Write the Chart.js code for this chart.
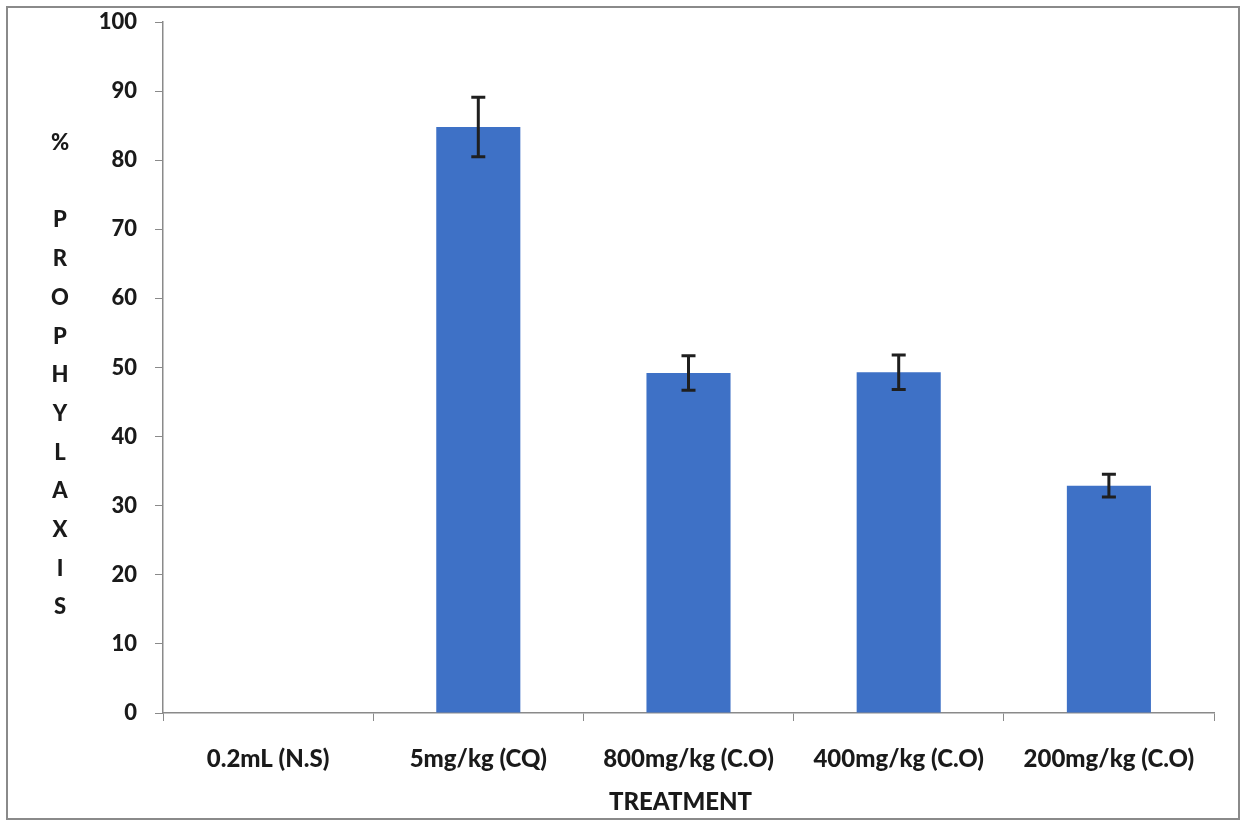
<!DOCTYPE html>
<html>

<head>
    <script src="https://cdn.jsdelivr.net/npm/chart.js@4.4.0/dist/chart.umd.min.js"></script>
    <style>
        body {
            margin: 0;
            background: #ffffff;
        }

        .chart {
            width: 1244px;
            height: 820px;
        }
    </style>
</head>

<body>
    <div class="chart">
        <canvas id="prophylaxis"></canvas>
    </div>

    <script>
        const treatments = ['0.2mL (N.S)', '5mg/kg (CQ)', '800mg/kg (C.O)', '400mg/kg (C.O)', '200mg/kg (C.O)']
        const prophylaxis = [0, 84.8, 49.2, 49.3, 32.9]
        const sem = [0, 4.3, 2.5, 2.5, 1.65]
        const yTitle = ['%', '', 'P', 'R', 'O', 'P', 'H', 'Y', 'L', 'A', 'X', 'I', 'S']
        const xTitle = 'TREATMENT'

        const fontFamily = 'Lato, sans-serif'

        // error bars, outer frame and the two axis titles
        const extras = {
            id: 'extras',
            afterDatasetsDraw(chart) {
                const ctx = chart.ctx
                const x = chart.scales.x
                const y = chart.scales.y
                ctx.save()
                ctx.strokeStyle = '#1f1f1f'
                ctx.lineWidth = 3
                prophylaxis.forEach((v, i) => {
                    if (!sem[i]) return
                    const cx = x.getPixelForValue(i)
                    const top = y.getPixelForValue(v + sem[i])
                    const bot = y.getPixelForValue(v - sem[i])
                    ctx.beginPath()
                    ctx.moveTo(cx, top)
                    ctx.lineTo(cx, bot)
                    ctx.moveTo(cx - 7, top)
                    ctx.lineTo(cx + 7, top)
                    ctx.moveTo(cx - 7, bot)
                    ctx.lineTo(cx + 7, bot)
                    ctx.stroke()
                })
                ctx.restore()
            },
            afterDraw(chart) {
                const ctx = chart.ctx
                const area = chart.chartArea
                ctx.save()
                ctx.strokeStyle = '#8a8a8a'
                ctx.lineWidth = 2
                ctx.strokeRect(7, 7, 1232, 812)

                ctx.fillStyle = '#1a1a1a'
                ctx.textAlign = 'center'
                ctx.textBaseline = 'middle'
                ctx.font = '900 22px Lato, sans-serif'
                yTitle.forEach((ch, i) => {
                    ctx.fillText(ch, 60, 143 + i * 38.7)
                })
                ctx.font = '900 24px Lato, sans-serif'
                ctx.fillText(xTitle, (area.left + area.right) / 2 - 8, 802)
                ctx.restore()
            }
        }

        new Chart(document.getElementById('prophylaxis').getContext('2d'), {
            type: 'bar',
            data: {
                labels: treatments,
                datasets: [{
                    label: '% prophylaxis',
                    backgroundColor: '#3e71c6',
                    borderWidth: 0,
                    categoryPercentage: 1,
                    barPercentage: 0.4,
                    data: prophylaxis
                }]
            },
            options: {
                maintainAspectRatio: false,
                responsive: true,
                animation: false,
                layout: {
                    padding: { left: 0, top: 22, right: 30, bottom: 0 }
                },
                plugins: {
                    legend: { display: false },
                    title: { display: false },
                    tooltip: { enabled: false }
                },
                scales: {
                    x: {
                        afterFit(scale) { scale.height = 107 },
                        border: { color: '#8a8a8a', width: 1.5 },
                        grid: {
                            drawOnChartArea: false,
                            color: '#8a8a8a',
                            tickLength: 8,
                            offset: true
                        },
                        ticks: {
                            color: '#1a1a1a',
                            padding: 24,
                            maxRotation: 0,
                            font: { family: fontFamily, size: 24, weight: '900' }
                        }
                    },
                    y: {
                        min: 0,
                        max: 100,
                        afterFit(scale) {
                            scale.width = 163
                            scale.paddingTop = 0
                            scale.paddingBottom = 0
                        },
                        border: { color: '#8a8a8a', width: 1.5 },
                        grid: {
                            drawOnChartArea: false,
                            color: '#8a8a8a',
                            tickLength: 8
                        },
                        ticks: {
                            stepSize: 10,
                            color: '#1a1a1a',
                            padding: 18,
                            font: { family: fontFamily, size: 22, weight: '900' }
                        }
                    }
                }
            },
            plugins: [extras]
        });
    </script>
</body>

</html>
